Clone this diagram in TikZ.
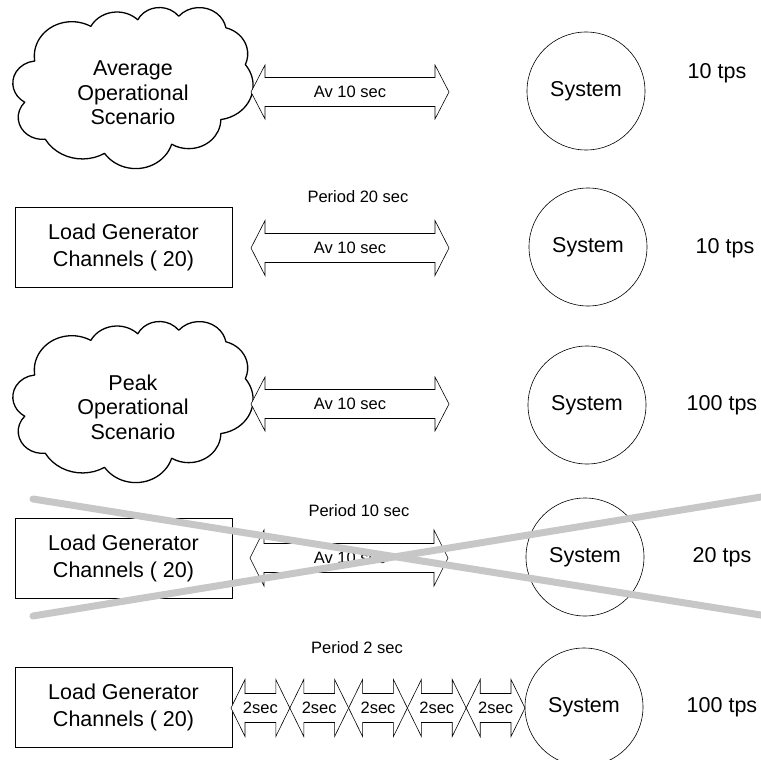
\documentclass[tikz,border=0pt]{standalone}
\usepackage{fontspec}
\setmainfont{Liberation Sans}
% Office-style cloud: arcs given as (wR, hR, start angle, sweep) with geometric angles
\newcommand\mkcloudarc[5]{%
  \pgfmathsetmacro\cloudta{atan2((#2)*sin(#4),(#3)*cos(#4))}%
  \pgfmathsetmacro\cloudtb{atan2((#2)*sin(#4+#5),(#3)*cos(#4+#5))}%
  \pgfmathsetmacro\cloudtb{\cloudta+mod(mod(\cloudtb-\cloudta,360)+360,360)}%
  \expandafter\xdef\csname cloudarc#1\endcsname{arc[x radius=#2, y radius=#3, start angle=\cloudta, end angle=\cloudtb]}%
}
\mkcloudarc{a}{67.53}{91.90}{-190.48748}{123.78053}
\mkcloudarc{b}{53.33}{72.67}{-144.10238}{89.94523}
\mkcloudarc{c}{43.65}{59.45}{-145.80792}{99.72302}
\mkcloudarc{d}{48.57}{65.95}{-130.98607}{117.24173}
\mkcloudarc{e}{53.33}{72.73}{-78.70888}{109.02692}
\mkcloudarc{f}{67.75}{92.20}{-46.26725}{130.269}
\mkcloudarc{g}{57.85}{78.67}{0.62502}{114.03333}
\mkcloudarc{h}{67.52}{92.15}{22.4516}{115.17255}
\mkcloudarc{i}{77.20}{105.43}{66.24263}{75.71102}
\mkcloudarc{j}{43.60}{59.18}{-274.94208}{146.73557}
\mkcloudarc{k}{43.45}{59.45}{-246.8285}{152.51885}
\newcommand\cloudpath{(39,143.7) \cloudarca \cloudarcb \cloudarcc \cloudarcd \cloudarce \cloudarcf \cloudarcg \cloudarch \cloudarci \cloudarcj \cloudarck -- cycle}
% double block arrow: left tip x, right tip x, centre y, head half-height, shaft half-height
\newcommand\dblarrow[5]{%
  \draw[arrowline] (#1,#3) -- ({#1+14},{#3-#4}) -- ({#1+14},{#3-#5}) -- ({#2-14},{#3-#5}) -- ({#2-14},{#3-#4}) -- (#2,#3)
    -- ({#2-14},{#3+#4}) -- ({#2-14},{#3+#5}) -- ({#1+14},{#3+#5}) -- ({#1+14},{#3+#4}) -- cycle;}
\begin{document}
\begin{tikzpicture}[x=1pt,y=-1pt,
  bigtext/.style={font=\fontsize{21.5}{24.5}\selectfont, align=center, inner sep=0pt},
  boxtext/.style={font=\fontsize{21.5}{27}\selectfont, align=center},
  smalltext/.style={font=\fontsize{16.5}{19}\selectfont, inner sep=0pt},
  sysnode/.style={circle, draw, line width=0.6pt, minimum size=118pt, inner sep=0pt,
                  font=\fontsize{21.5}{25}\selectfont},
  genbox/.style={rectangle, draw, line width=0.8pt, minimum width=217pt, minimum height=80pt, boxtext},
  arrowline/.style={draw, line width=0.6pt, fill=white},
  cloudline/.style={draw, line width=1.3pt, line join=round},
  crossline/.style={line width=7pt, black!22, line cap=round}]
\useasboundingbox (0,0) rectangle (761,760);

% ---------- row 1 ----------
\begin{scope}[xshift=13pt, yshift=-7pt, x=0.5556pt, y=-0.3727pt]
  \draw[cloudline] \cloudpath;
\end{scope}
\node[bigtext] (avg) at (133,93) {Average\\Operational\\Scenario};
\dblarrow{251}{449}{92}{27}{14.5}
\node[smalltext] (av1) at (350,92) {Av 10 sec};
\node[sysnode] (sys1) at (586,91) {System};
\node[bigtext] (tps1) at (717,73) {10 tps};

% ---------- row 2 ----------
\node[smalltext] (per2) at (358,197) {Period 20 sec};
\node[genbox] (gen2) at (123.5,247) {Load Generator\\Channels ( 20)};
\dblarrow{251}{449}{248}{27.5}{14.5}
\node[smalltext] (av2) at (350,248) {Av 10 sec};
\node[sysnode] (sys2) at (588,247) {System};
\node[bigtext] (tps2) at (725,248) {10 tps};

% ---------- row 3 ----------
\begin{scope}[xshift=13pt, yshift=-321pt, x=0.5556pt, y=-0.3727pt]
  \draw[cloudline] \cloudpath;
\end{scope}
\node[bigtext] (peak) at (133,407) {Peak\\Operational\\Scenario};
\dblarrow{251}{449}{404}{27}{14.5}
\node[smalltext] (av3) at (350,404) {Av 10 sec};
\node[sysnode] (sys3) at (587,405) {System};
\node[bigtext] (tps3) at (722,405) {100 tps};

% ---------- row 4 ----------
\node[smalltext] (per4) at (359,511) {Period 10 sec};
\node[genbox] (gen4) at (123.5,558) {Load Generator\\Channels ( 20)};
\dblarrow{250}{448}{558}{28}{14.5}
\node[smalltext] (av4) at (350,558) {Av 10 sec};
\node[sysnode] (sys4) at (585,557) {System};
\node[bigtext] (tps4) at (722,557) {20 tps};
\coordinate (xa1) at (33,499);
\coordinate (xa2) at (770,616.5);
\coordinate (xb1) at (33,616);
\coordinate (xb2) at (770,495.5);
\draw[crossline] (xa1) -- (xa2);
\draw[crossline] (xb1) -- (xb2);

% ---------- row 5 ----------
\node[smalltext] (per5) at (357,648) {Period 2 sec};
\node[genbox] (gen5) at (123.5,707) {Load Generator\\Channels ( 20)};
\foreach \i in {0,...,4}{
  \pgfmathsetmacro\xl{231+58.8*\i}
  \pgfmathsetmacro\xr{231+58.8*(\i+1)}
  \dblarrow{\xl}{\xr}{708}{28.5}{14.5}
  \node[smalltext] (two\i) at ({(\xl+\xr)/2},708) {2sec};
}
\node[sysnode] (sys5) at (584,707) {System};
\node[bigtext] (tps5) at (722,707) {100 tps};
\end{tikzpicture}
\end{document}
